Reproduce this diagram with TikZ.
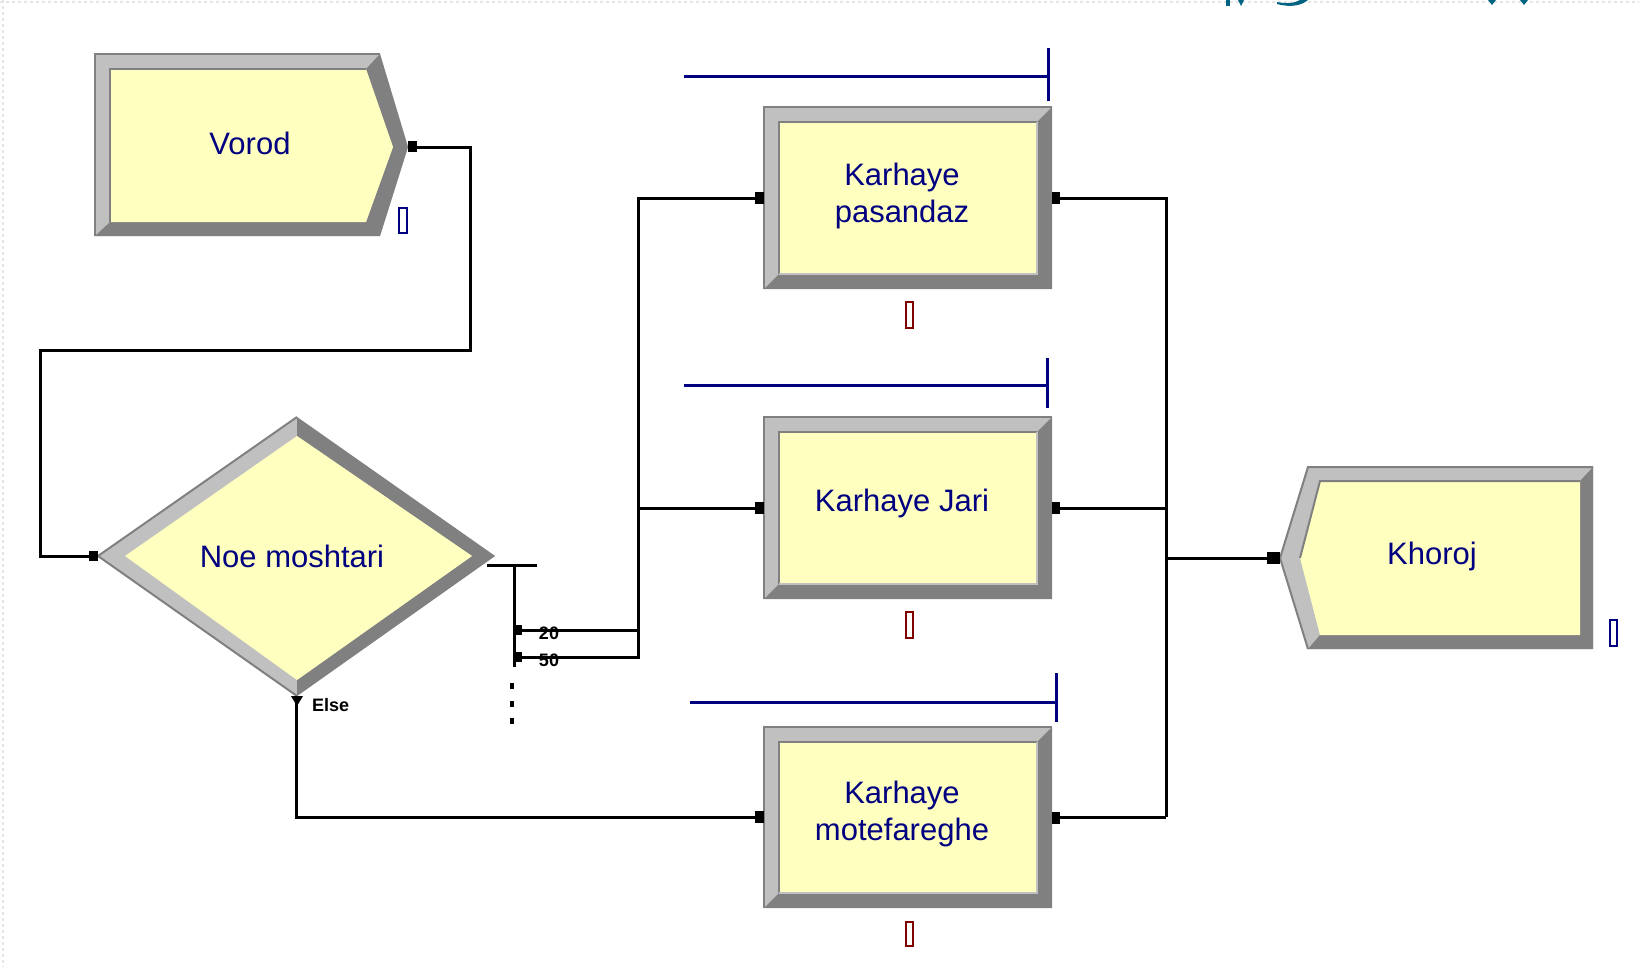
\documentclass[tikz,border=0pt]{standalone}
\usepackage{fontspec}
\setmainfont{Liberation Sans}
\usetikzlibrary{calc}
\definecolor{navyc}{RGB}{0,0,128}
\definecolor{lgray}{RGB}{192,192,192}
\definecolor{dgray}{RGB}{128,128,128}
\definecolor{pale}{RGB}{255,255,192}
\definecolor{dred}{RGB}{128,0,0}
\definecolor{tealc}{RGB}{0,100,130}
\tikzset{
  conn/.style={draw=black,line width=3pt},
  queueline/.style={draw=navyc,line width=3pt},
  blockname/.style={text=navyc,font=\fontsize{31}{37}\selectfont,align=center,inner sep=0pt},
  modbox/.style={rectangle,inner sep=0pt,text=navyc,font=\fontsize{31}{37}\selectfont,align=center},
  smalllbl/.style={font=\bfseries\fontsize{18}{20}\selectfont,inner sep=0pt,text=black},
  redmark/.style={draw=dred,line width=2.5pt,fill=white},
  bluemark/.style={draw=navyc,line width=2.5pt,fill=white},
  portmark/.style={fill=black},
}
\newcommand\bevelbox[4]{%
  \fill[lgray] (#1,#2) rectangle (#3,#4);
  \fill[dgray] (#3,#2) -- (#3,#4) -- (#1,#4) -- ({#1+15},{#4-15}) -- ({#3-15},{#4-15}) -- ({#3-15},{#2+15}) -- cycle;
  \fill[pale] ({#1+15},{#2+15}) rectangle ({#3-15},{#4-15});
  \draw[dgray,line width=2pt] ({#1+15},{#4-15}) -- ({#1+15},{#2+15}) -- ({#3-15},{#2+15});
  \draw[lgray,line width=2pt] ({#3-15},{#2+15}) -- ({#3-15},{#4-15}) -- ({#1+15},{#4-15});
  \draw[dgray,line width=2pt] (#1,#4) -- (#1,#2) -- (#3,#2);
}
\begin{document}
\begin{tikzpicture}[x=1pt,y=-1pt]
\useasboundingbox (0,0) rectangle (1639,967);
\fill[white] (0,0) rectangle (1639,967);
% faint textured border
\draw[black!10,line width=2pt,dash pattern=on 3pt off 3pt] (0,2) -- (1639,2);
\draw[black!10,line width=2pt,dash pattern=on 3pt off 3pt] (3,0) -- (3,967);
% teal fragments at top edge
\fill[tealc] (1277,4) .. controls (1292,8) and (1302,5) .. (1308,0) -- (1300,0) .. controls (1295,3) and (1287,4) .. (1277,2) -- cycle;
\fill[tealc] (1226,0) rectangle (1230,6);
\fill[tealc] (1238,0) -- (1244,0) -- (1241,6) -- cycle;
\fill[tealc] (1488,0) -- (1496,0) -- (1492,5) -- cycle;
\fill[tealc] (1520,0) -- (1528,0) -- (1524,5) -- cycle;

% ---------- Vorod (create) ----------
\fill[lgray] (95,54) -- (380,54) -- (408,147) -- (380,236) -- (95,236) -- cycle;
\fill[dgray] (380,54) -- (408,147) -- (380,236) -- (95,236) -- (110,222) -- (366,222) -- (393,147) -- (366,69) -- cycle;
\fill[pale] (110,69) -- (366,69) -- (393,147) -- (366,222) -- (110,222) -- cycle;
\draw[dgray,line width=2pt] (110,222) -- (110,69) -- (366,69);
\draw[dgray,line width=2pt] (95,236) -- (95,54) -- (380,54);
\node[modbox,minimum width=313pt,minimum height=182pt] (vorod) at (251.5,147) {};
\node[blockname] (vorodtxt) at (250,143) {Vorod};
\draw[bluemark] (399,208) rectangle (407,233);

% ---------- Decide ----------
\fill[lgray] (98,556) -- (297,417) -- (495,556) -- (297,696) -- cycle;
\fill[dgray] (297,417) -- (495,556) -- (297,696) -- (297,680) -- (472,556) -- (297,436) -- cycle;
\fill[pale] (125,556) -- (297,436) -- (472,556) -- (297,680) -- cycle;
\draw[dgray,line width=2pt] (98,556) -- (297,417);
\draw[dgray,line width=2pt] (98,556) -- (297,696);
\node[modbox,minimum width=397pt,minimum height=279pt] (dec) at (296.5,556.5) {};
\node[blockname] (dectxt) at (292,556) {Noe moshtari};

% ---------- Process boxes ----------
\bevelbox{764}{107}{1052}{289}
\node[modbox,minimum width=288pt,minimum height=182pt] (pas) at (908,198) {};
\node[blockname] (pastxt) at (902,196) {Karhaye\\pasandaz};
\bevelbox{764}{417}{1052}{599}
\node[modbox,minimum width=288pt,minimum height=182pt] (jari) at (908,508) {};
\node[blockname] (jaritxt) at (902,503) {Karhaye Jari};
\bevelbox{764}{727}{1052}{908}
\node[modbox,minimum width=288pt,minimum height=181pt] (mot) at (908,817.5) {};
\node[blockname] (mottxt) at (902,814) {Karhaye\\motefareghe};

% queue lines
\draw[queueline] (684,76) -- (1048,76);
\draw[queueline] (1048,48) -- (1048,101);
\draw[queueline] (684,385) -- (1047,385);
\draw[queueline] (1047,358) -- (1047,408);
\draw[queueline] (690,702) -- (1056,702);
\draw[queueline] (1056,673) -- (1056,722);
% resource markers
\draw[redmark] (906,302) rectangle (913,328);
\draw[redmark] (906,612) rectangle (913,638);
\draw[redmark] (906,922) rectangle (913,946);

% ---------- Khoroj (dispose) ----------
\fill[lgray] (1280,558) -- (1308,467) -- (1593,467) -- (1593,649) -- (1308,649) -- cycle;
\fill[dgray] (1593,467) -- (1593,649) -- (1308,649) -- (1320,635) -- (1580,635) -- (1580,481) -- cycle;
\fill[pale] (1300,558) -- (1320,481) -- (1580,481) -- (1580,635) -- (1320,635) -- cycle;
\draw[dgray,line width=2pt] (1300,558) -- (1320,481) -- (1580,481);
\draw[dgray,line width=2pt] (1280,558) -- (1308,467) -- (1593,467);
\draw[dgray,line width=2pt] (1280,558) -- (1308,649);
\node[modbox,minimum width=313pt,minimum height=182pt] (kho) at (1436.5,558) {};
\node[blockname] (khotxt) at (1432,556) {Khoroj};
\draw[bluemark] (1610,620) rectangle (1617,646);

% ---------- Connectors ----------
\draw[conn] (vorod.east) -| (470,350) -- (40,350) |- (dec.west);
\draw[conn] (dec.south) |- (mot.west);
% decide outputs
\coordinate (decout) at (514,565);
\coordinate (o1) at (514,630);
\coordinate (o2) at (514,657);
\draw[conn] (487,565) -- (537,565);
\draw[conn] (decout) -- (514,667);
\draw[conn] (o1) -- (638,630) |- (pas.west);
\draw[conn] (o2) -| (638,508) -- (jari.west);
\node[smalllbl] (l20) at (549,633) {20};
\node[smalllbl] (l50) at (549,660) {50};
\node[smalllbl,anchor=west] (lelse) at (312,705) {Else};
\fill (510,683) rectangle (514,689);
\fill (510,701) rectangle (514,707);
\fill (510,718) rectangle (514,724);
% merge to Khoroj
\draw[conn] (pas.east) -| (1166,817);
\draw[conn] (jari.east) -- (1166,508);
\draw[conn] (mot.east) -- (1166,817.5);
\draw[conn] (1166,558) -- (kho.west);

% ---------- Port markers ----------
\fill[portmark] (408,141) rectangle (417,152);
\fill[portmark] (89,551) rectangle (98,561);
\fill[portmark] (291,696) -- (303,696) -- (297,706) -- cycle;
\fill[portmark] (514,625) rectangle (522,635);
\fill[portmark] (514,652) rectangle (522,662);
\fill[portmark] (755,192) rectangle (764,204);
\fill[portmark] (755,502) rectangle (764,514);
\fill[portmark] (755,811) rectangle (764,823);
\fill[portmark] (1052,192) rectangle (1060,204);
\fill[portmark] (1052,502) rectangle (1060,514);
\fill[portmark] (1052,812) rectangle (1060,824);
\fill[portmark] (1267,552) rectangle (1280,564);
\end{tikzpicture}
\end{document}
